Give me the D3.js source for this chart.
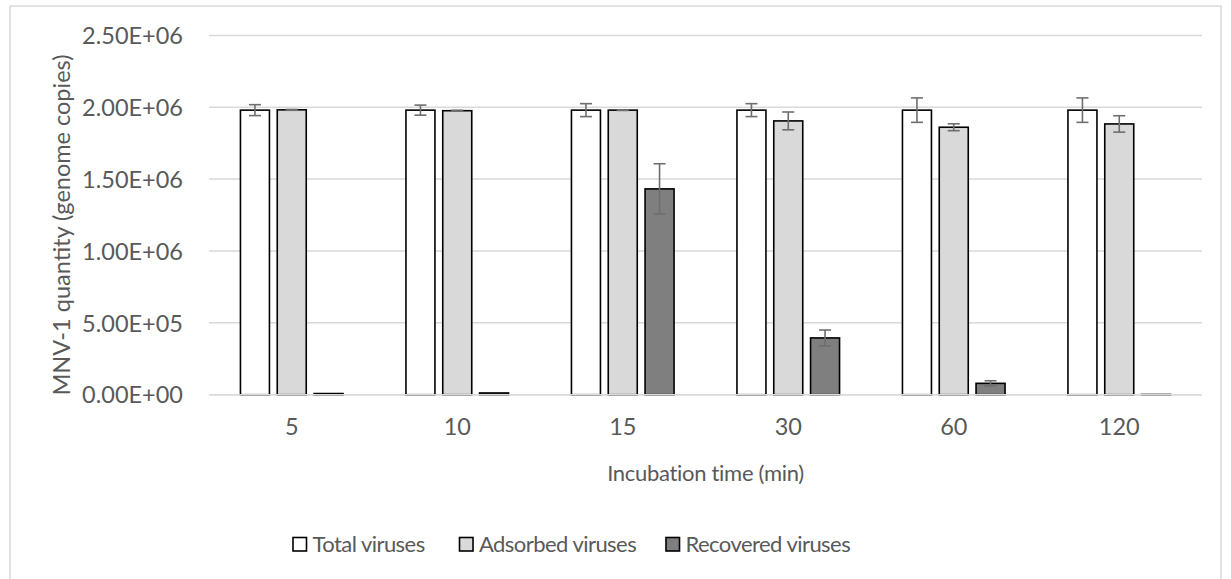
<!DOCTYPE html>
<html><head><meta charset="utf-8">
<script src="https://cdn.jsdelivr.net/npm/d3@7"></script>
<style>body{margin:0;background:#fff}svg{display:block}</style>
</head><body>
<svg id="c" width="1231" height="579"></svg>
<script>
const categories = ["5","10","15","30","60","120"];
const seriesNames = ["Total viruses","Adsorbed viruses","Recovered viruses"];
const totalValues = [1.98e6,1.98e6,1.98e6,1.98e6,1.98e6,1.98e6];
const totalErrors = [38000,35000,45000,45000,85000,85000];
const adsorbedValues = [1.982e6,1.976e6,1.98e6,1.905e6,1.861e6,1.884e6];
const adsorbedErrors = [3000,3000,2000,62000,24000,57000];
const recoveredValues = [8000,12000,1.432e6,3.95e5,7.9e4,1500];
const recoveredErrors = [0,0,175000,55000,18000,0];
const yTicks = [0,5e5,1e6,1.5e6,2e6,2.5e6];
const tickLabels = ["0.00E+00","5.00E+05","1.00E+06","1.50E+06","2.00E+06","2.50E+06"];
const fills = ["#ffffff","#d9d9d9","#7f7f7f"];

const series = [
  {name:seriesNames[0], values:totalValues, errors:totalErrors, fill:fills[0]},
  {name:seriesNames[1], values:adsorbedValues, errors:adsorbedErrors, fill:fills[1]},
  {name:seriesNames[2], values:recoveredValues, errors:recoveredErrors, fill:fills[2]}
];

const svg = d3.select("#c");
const font = "Lato, 'Open Sans', sans-serif";
const txt = "#595959";
const grid = "#d9d9d9";
const fs = 23.5;

svg.append("rect").attr("x",10).attr("y",6).attr("width",1211).attr("height",600)
  .attr("fill","#fff").attr("stroke","#d9d9d9").attr("stroke-width",1.5);

const pLeft = 209, pRight = 1202, pTop = 35.4, pBottom = 394.7;
const x = d3.scaleBand().domain(categories).range([pLeft,pRight]).padding(0);
const y = d3.scaleLinear().domain([0,2.5e6]).range([pBottom,pTop]);
const inner = d3.scaleBand().domain([0,1,2]).range([-51.3,51.3]).paddingInner(0.212).paddingOuter(0);

svg.append("g").selectAll("line").data(yTicks).join("line")
  .attr("x1",pLeft).attr("x2",pRight)
  .attr("y1",d=>y(d)).attr("y2",d=>y(d))
  .attr("stroke",grid).attr("stroke-width",1.5);

const yAxis = d3.axisLeft(y).tickValues(yTicks).tickFormat((d,i)=>tickLabels[i]).tickSize(0).tickPadding(0);
const ya = svg.append("g").attr("transform",`translate(${pLeft-26},0)`).call(yAxis);
ya.select(".domain").remove();
ya.selectAll("text").attr("font-family",font).attr("font-size",fs).attr("fill",txt).attr("dy","0.35em");

const xAxis = d3.axisBottom(x).tickSize(0).tickPadding(0);
const xa = svg.append("g").attr("transform",`translate(0,${pBottom+24})`).call(xAxis);
xa.select(".domain").remove();
xa.selectAll("text").attr("font-family",font).attr("font-size",fs).attr("fill",txt).attr("dy","0.71em");

series.forEach((s,si)=>{
  const g = svg.append("g");
  g.selectAll("rect").data(categories).join("rect")
    .attr("x",(c)=>x(c)+x.bandwidth()/2+inner(si))
    .attr("width",inner.bandwidth())
    .attr("y",(c,i)=>y(s.values[i]))
    .attr("height",(c,i)=>pBottom-y(s.values[i]))
    .attr("fill",s.fill).attr("stroke","#000").attr("stroke-width",1.6);
});

series.forEach((s,si)=>{
  const g = svg.append("g").attr("stroke","#6e6e6e").attr("stroke-width",1.6).attr("fill","none");
  categories.forEach((c,i)=>{
    const e = s.errors[i];
    if(!e) return;
    const cx = x(c)+x.bandwidth()/2+inner(si)+inner.bandwidth()/2;
    const y1 = y(s.values[i]+e), y2 = y(Math.max(0,s.values[i]-e));
    g.append("line").attr("x1",cx).attr("x2",cx).attr("y1",y1).attr("y2",y2);
    g.append("line").attr("x1",cx-6).attr("x2",cx+6).attr("y1",y1).attr("y2",y1);
    g.append("line").attr("x1",cx-6).attr("x2",cx+6).attr("y1",y2).attr("y2",y2);
  });
});

svg.append("line").attr("x1",pLeft).attr("x2",pRight).attr("y1",pBottom).attr("y2",pBottom)
  .attr("stroke",grid).attr("stroke-width",1.5);

svg.append("text").attr("transform",`translate(70,${(pTop+pBottom)/2+10}) rotate(-90)`)
  .attr("text-anchor","middle").attr("font-family",font).attr("font-size",fs).attr("fill",txt)
  .text("MNV-1 quantity (genome copies)");
svg.append("text").attr("x",(pLeft+pRight)/2).attr("y",481)
  .attr("text-anchor","middle").attr("font-family",font).attr("font-size",22)
  .attr("letter-spacing","-0.3px").attr("fill",txt)
  .text("Incubation time (min)");

const legendX = [293,459.5,666];
series.forEach((s,si)=>{
  const g = svg.append("g").attr("transform",`translate(${legendX[si]},537.5)`);
  g.append("rect").attr("x",0).attr("y",0).attr("width",13.5).attr("height",13.5)
    .attr("fill",s.fill).attr("stroke","#000").attr("stroke-width",1.6);
  g.append("text").attr("x",19.5).attr("y",7).attr("dy","0.35em")
    .attr("font-family",font).attr("font-size",22).attr("letter-spacing","-0.55px")
    .attr("fill",txt).text(s.name);
});
</script>
</body></html>
